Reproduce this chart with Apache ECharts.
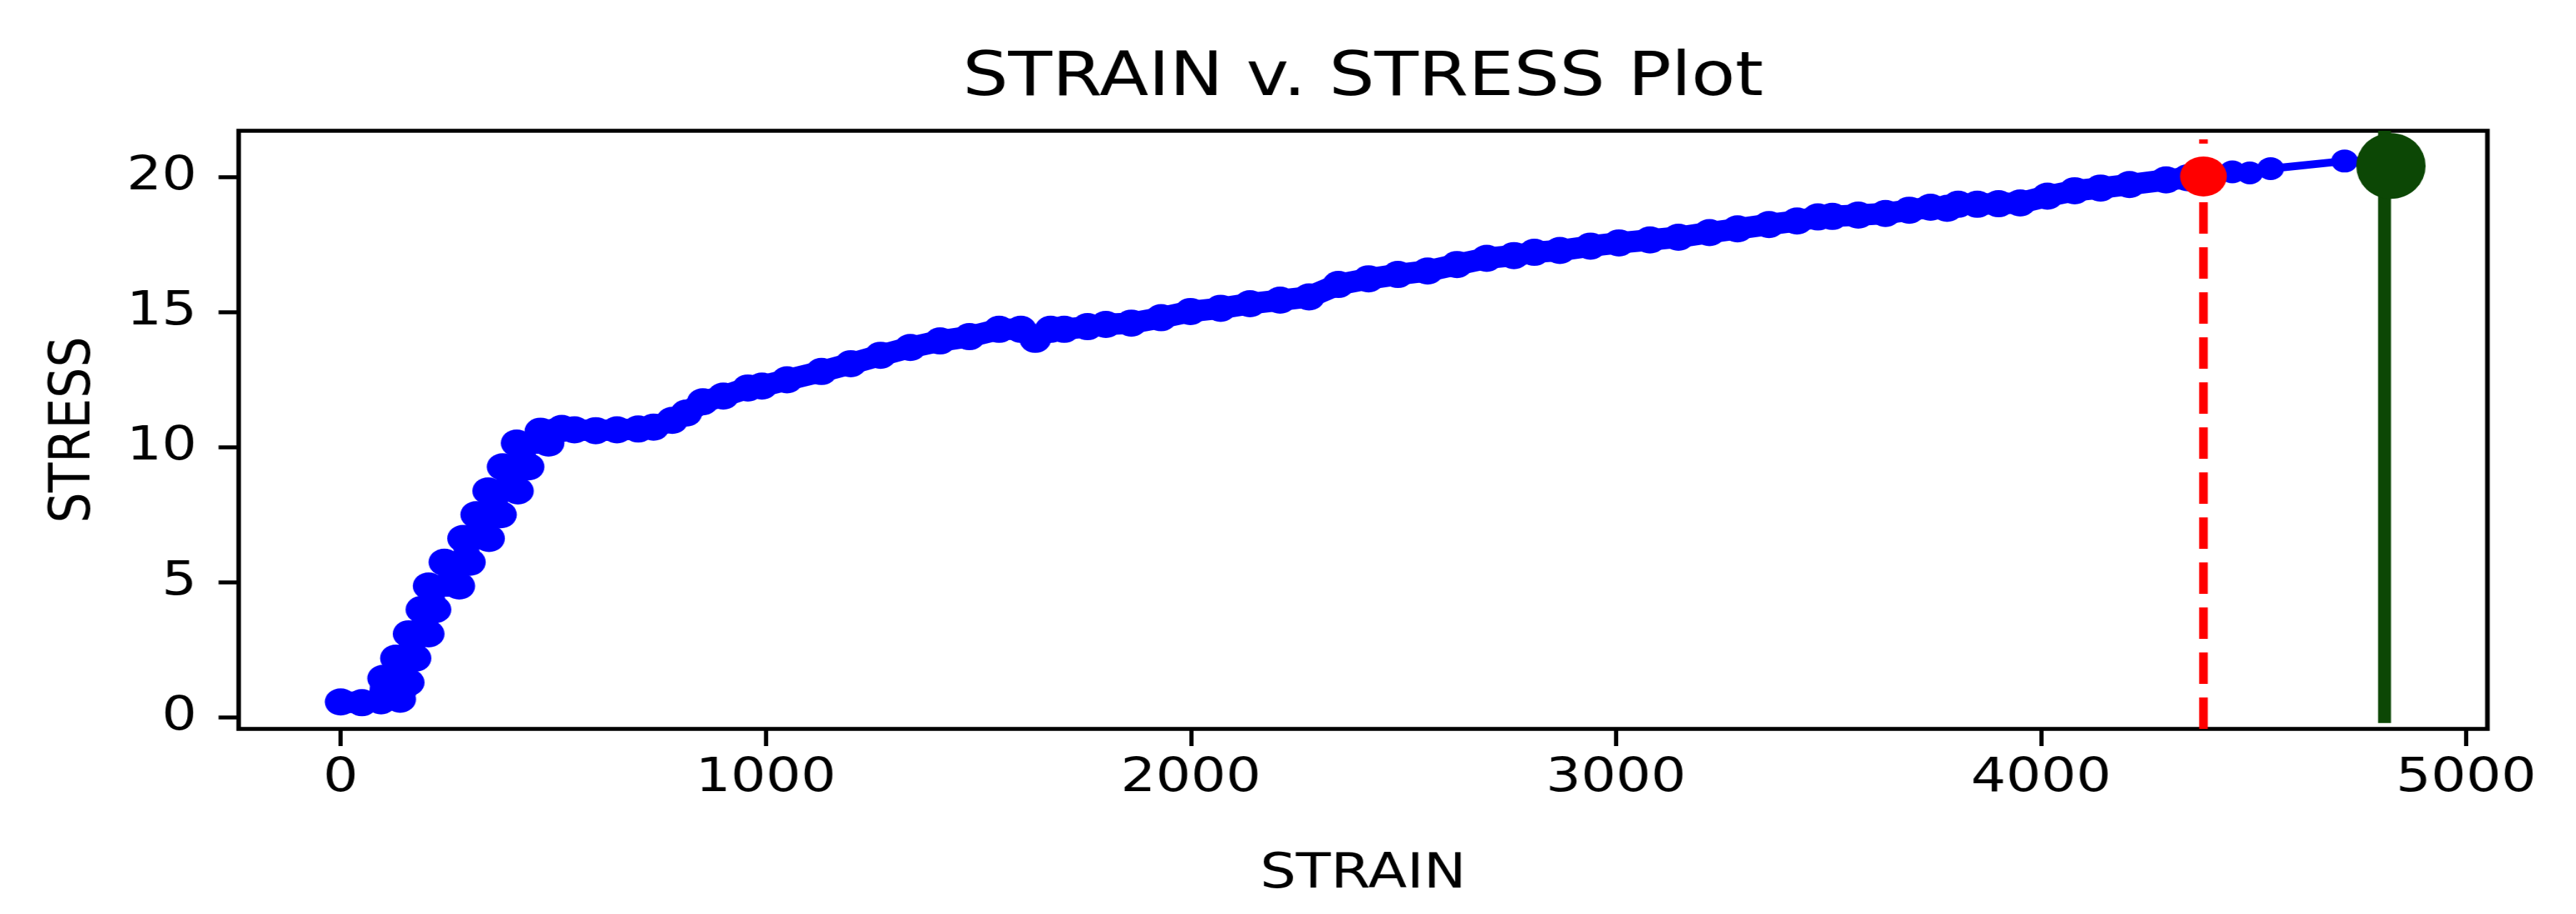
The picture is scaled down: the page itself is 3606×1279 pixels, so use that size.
<!DOCTYPE html>
<html>
<head>
<meta charset="utf-8">
<script src="https://cdn.jsdelivr.net/npm/echarts@6/dist/echarts.min.js"></script>
<style>
html, body { margin: 0; padding: 0; background: #ffffff; overflow: hidden; }
#wrap { width: 3606px; height: 1279px; overflow: hidden; background: #ffffff; }
/* the reference figure is stretched horizontally; reproduce that stretch */
#chart { width: 3082px; height: 1279px; transform: scaleX(1.17002); transform-origin: 0 0; }
</style>
</head>
<body>
<div id="wrap"><div id="chart"></div></div>
<script>
// ---- data ----
const strain = [
  0, 50, 95, 100, 140, 160, 130, 176, 160, 207, 190, 223, 207, 279, 244, 304,
  288, 349, 319, 377, 347, 417, 381, 442, 414, 489, 470, 520,
  550, 600, 650, 700, 736, 780, 813, 852, 900, 958, 991, 1050, 1131, 1200, 1270,
  1340, 1410, 1479, 1549, 1600, 1634, 1670, 1702, 1757, 1800, 1860, 1930, 1999,
  2070, 2139, 2210, 2278, 2347, 2418, 2487, 2557, 2626, 2696, 2760, 2808, 2868,
  2940, 3007, 3080, 3147, 3220, 3286, 3360, 3426, 3475, 3509, 3570, 3634, 3690,
  3740, 3779, 3805, 3850, 3900, 3951, 4015, 4079, 4140, 4208, 4294, 4345, 4380,
  4450, 4491, 4540, 4714, 4790
];
const stress = [
  0.58, 0.55, 0.62, 1.45, 0.68, 1.30, 2.20, 2.20, 3.10, 3.10, 4.00, 4.00, 4.87, 4.87, 5.75, 5.75,
  6.63, 6.63, 7.51, 7.51, 8.39, 8.39, 9.28, 9.28, 10.16, 10.16, 10.60, 10.70,
  10.65, 10.62, 10.65, 10.68, 10.75, 11.00, 11.27, 11.69, 11.90, 12.20, 12.27, 12.50, 12.81, 13.10, 13.41,
  13.70, 13.94, 14.10, 14.37, 14.37, 14.00, 14.37, 14.37, 14.47, 14.55, 14.60, 14.80, 15.03,
  15.15, 15.32, 15.45, 15.57, 16.03, 16.24, 16.40, 16.53, 16.77, 17.00, 17.10, 17.22, 17.29,
  17.45, 17.57, 17.68, 17.78, 17.95, 18.09, 18.25, 18.38, 18.53, 18.55, 18.60, 18.66, 18.78,
  18.89, 18.85, 19.00, 19.00, 19.02, 19.05, 19.30, 19.50, 19.60, 19.73, 19.90, 19.98, 20.03,
  20.20, 20.16, 20.32, 20.60, 20.62
];
const yieldPoint = [4382, 20.03];      // red marker
const yieldLineX = 4382;               // red dashed vertical
const yieldLineRange = [-0.42, 21.4];
const ultimatePoint = [4823, 20.42];   // green marker
const ultimateLineX = 4808;            // green vertical
const ultimateLineRange = [-0.2, 21.72];
const xRange = [-240, 5050];
const yRange = [-0.42, 21.72];
const xTicks = [0, 1000, 2000, 3000, 4000, 5000];
const yTicks = [0, 5, 10, 15, 20];
const titleText = 'STRAIN v. STRESS Plot';
const xName = 'STRAIN';
const yName = 'STRESS';

// ---- build series data ----
const curve = strain.map((s, i) => [s, stress[i]]);
// the densely sampled part ends at the yield point; the sparse tail follows
const splitIdx = strain.indexOf(4380);
const curveDense = curve.slice(0, splitIdx + 1);
const curveTail = curve.slice(splitIdx);

const font = 'DejaVu Sans';
const W = 3082, H = 1279;
const G = { left: 285.5, right: 106, top: 183, bottom: 259 };
const gridCenter = G.left + (W - G.left - G.right) / 2;
const titleSize = 86;
const mctx = document.createElement('canvas').getContext('2d');
mctx.font = titleSize + 'px "' + font + '"';
const titleW = mctx.measureText(titleText).width;

const chart = echarts.init(document.getElementById('chart'), null, { renderer: 'canvas', width: W, height: H });
chart.setOption({
  animation: false,
  backgroundColor: '#ffffff',
  title: {
    text: titleText,
    left: gridCenter - titleW / 2,
    top: 68,
    padding: 0,
    textStyle: { fontFamily: font, fontSize: titleSize, fontWeight: 'normal', color: '#000000' }
  },
  grid: {
    left: G.left, right: G.right, top: G.top, bottom: G.bottom,
    show: true, borderColor: '#000000', borderWidth: 5.5, backgroundColor: '#ffffff'
  },
  xAxis: {
    type: 'value',
    min: xRange[0], max: xRange[1],
    name: xName, nameLocation: 'middle', nameGap: 170,
    nameTextStyle: { fontFamily: font, fontSize: 68, color: '#000000', verticalAlign: 'top' },
    axisLine: { show: false, onZero: false },
    axisTick: { show: true, inside: false, length: 24, customValues: xTicks,
      lineStyle: { color: '#000000', width: 5 } },
    axisLabel: { show: true, customValues: xTicks, margin: 37,
      formatter: v => String(v),
      fontFamily: font, fontSize: 66, color: '#000000' },
    splitLine: { show: false }
  },
  yAxis: {
    type: 'value',
    min: yRange[0], max: yRange[1],
    name: yName, nameLocation: 'middle', nameGap: 162,
    nameTextStyle: { fontFamily: font, fontSize: 68, color: '#000000' },
    axisLine: { show: false, onZero: false },
    axisTick: { show: true, inside: false, length: 24, customValues: yTicks,
      lineStyle: { color: '#000000', width: 5.5 } },
    axisLabel: { show: true, customValues: yTicks, margin: 50,
      formatter: v => String(v),
      fontFamily: font, fontSize: 66, color: '#000000' },
    splitLine: { show: false }
  },
  series: [
    {
      name: 'curve', type: 'line', data: curveDense,
      showSymbol: true, showAllSymbol: true, symbol: 'circle', symbolSize: 38,
      itemStyle: { color: '#0000ff', borderWidth: 0 },
      lineStyle: { color: '#0000ff', width: 30, join: 'round', cap: 'round' },
      z: 2, silent: true
    },
    {
      name: 'curve tail', type: 'line', data: curveTail,
      showSymbol: true, showAllSymbol: true, symbol: 'circle', symbolSize: 32,
      itemStyle: { color: '#0000ff', borderWidth: 0 },
      lineStyle: { color: '#0000ff', width: 11, join: 'round' },
      z: 2, silent: true
    },
    {
      name: 'yield line', type: 'line',
      data: [[yieldLineX, yieldLineRange[0]], [yieldLineX, yieldLineRange[1]]],
      showSymbol: false,
      lineStyle: { color: '#ff0000', width: 10.3, type: [44, 19], cap: 'butt' },
      z: 3, silent: true
    },
    {
      name: 'yield', type: 'scatter', data: [yieldPoint],
      symbol: 'circle', symbolSize: [56, 56],
      itemStyle: { color: '#ff0000', opacity: 1 }, z: 4, silent: true
    },
    {
      name: 'ultimate line', type: 'line',
      data: [[ultimateLineX, ultimateLineRange[0]], [ultimateLineX, ultimateLineRange[1]]],
      showSymbol: false,
      lineStyle: { color: '#0c4705', width: 15.4, cap: 'butt' },
      z: 5, silent: true
    },
    {
      name: 'ultimate', type: 'scatter', data: [ultimatePoint],
      symbol: 'circle', symbolSize: [83, 92],
      itemStyle: { color: '#0c4705', opacity: 1 }, z: 6, silent: true
    }
  ]
});
</script>
</body>
</html>
